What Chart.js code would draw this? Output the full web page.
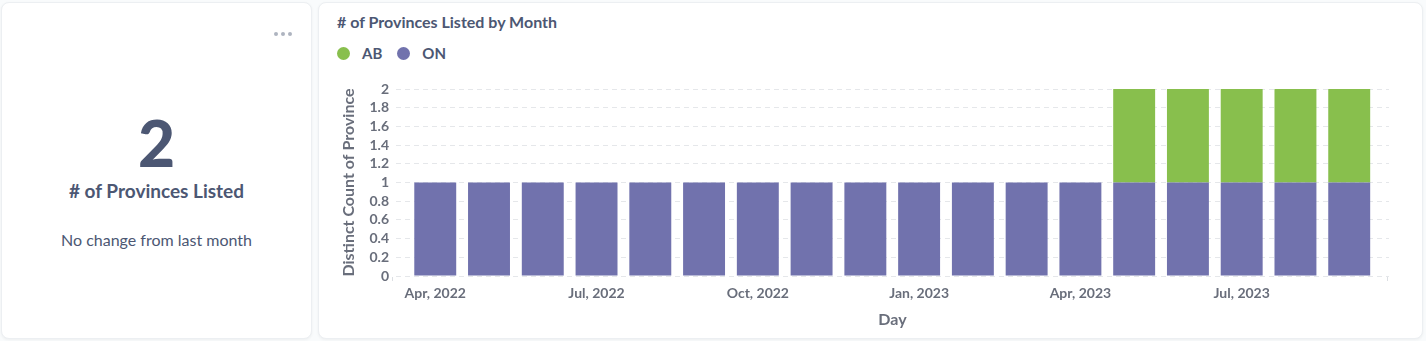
<!DOCTYPE html>
<html>
<head>
<meta charset="utf-8">
<script src="https://cdn.jsdelivr.net/npm/chart.js@4"></script>
<style>
  html, body { margin: 0; padding: 0; }
  body {
    width: 1426px; height: 341px; overflow: hidden;
    background: #f9fbfc; font-family: Lato, "Noto Sans", sans-serif;
    position: relative;
  }
  .card {
    position: absolute; background: #fff; border: 1px solid #eceff2;
    border-radius: 8px; box-sizing: border-box;
    box-shadow: 0 1px 3px rgba(0,0,0,0.05);
  }
  #scalar { left: 1px; top: 2px; width: 311px; height: 337px; }
  #chartCard { left: 318px; top: 2px; width: 1105px; height: 337px; }
  .dots { position: absolute; left: 272px; top: 17px; }
  .dots span { display: inline-block; width: 4px; height: 4px; border-radius: 50%; background: #aeb4c0; margin-right: 3px; }
  .big {
    position: absolute; left: 0; width: 100%; top: 100px; text-align: center;
    font-size: 64px; font-weight: 900; color: #4c5773; line-height: 80px;
  }
  .metricTitle {
    position: absolute; left: 0; width: 100%; top: 176px; text-align: center;
    font-size: 19px; font-weight: 700; color: #4c5773; line-height: 24px;
  }
  .change {
    position: absolute; left: 0; width: 100%; top: 227px; text-align: center;
    font-size: 16px; color: #4c5773; line-height: 20px;
  }
  .ctitle {
    position: absolute; left: 18px; top: 9px;
    font-size: 16px; font-weight: 700; color: #4c5773; line-height: 20px;
  }
  .legend { position: absolute; left: 18px; top: 40px; display: flex; }
  .legend .item { display: flex; align-items: center; margin-right: 15px;
    font-size: 15px; font-weight: 700; color: #4c5773; line-height: 20px; }
  .legend .sw { width: 13px; height: 13px; border-radius: 50%; margin-right: 12px; }
  #wrap { position: absolute; left: 0; top: 68px; width: 1104px; height: 269px; }
</style>
</head>
<body>
<div class="card" id="scalar">
  <div class="dots"><span></span><span></span><span></span></div>
  <div class="big">2</div>
  <div class="metricTitle"># of Provinces Listed</div>
  <div class="change">No change from last month</div>
</div>
<div class="card" id="chartCard">
  <div class="ctitle"># of Provinces Listed by Month</div>
  <div class="legend" id="legend"></div>
  <div id="wrap"><canvas id="c" width="1104" height="269"></canvas></div>
</div>
<script>
// Months on the x axis, April 2022 through September 2023
const months = [
  "Apr, 2022", "May, 2022", "Jun, 2022", "Jul, 2022", "Aug, 2022", "Sep, 2022",
  "Oct, 2022", "Nov, 2022", "Dec, 2022", "Jan, 2023", "Feb, 2023", "Mar, 2023",
  "Apr, 2023", "May, 2023", "Jun, 2023", "Jul, 2023", "Aug, 2023", "Sep, 2023"
];
// Distinct province counts per month
const onValues = [1, 1, 1, 1, 1, 1, 1, 1, 1, 1, 1, 1, 1, 1, 1, 1, 1, 1];
const abValues = [null, null, null, null, null, null, null, null, null, null, null, null, null, 1, 1, 1, 1, 1];
// Months that get a tick label
const labelledMonths = ["Apr, 2022", "Jul, 2022", "Oct, 2022", "Jan, 2023", "Apr, 2023", "Jul, 2023"];
const yTicks = [0, 0.2, 0.4, 0.6, 0.8, 1, 1.2, 1.4, 1.6, 1.8, 2];

const GREEN = "#88bf4d";
const PURPLE = "#7172ad";
const TICK = "#696e7b";

const toPoints = vals => vals.map((v, i) => ({ x: i, y: v }));

// ON stacks at the bottom, AB on top
const datasets = [
  { label: "ON", data: toPoints(onValues), backgroundColor: PURPLE },
  { label: "AB", data: toPoints(abValues), backgroundColor: GREEN }
];

// Legend lists AB first, then ON
const legend = document.getElementById("legend");
[datasets[1], datasets[0]].forEach(ds => {
  const it = document.createElement("div");
  it.className = "item";
  it.innerHTML = '<div class="sw" style="background:' + ds.backgroundColor + '"></div>' + ds.label;
  legend.appendChild(it);
});

Chart.defaults.font.family = "Lato, 'Noto Sans', sans-serif";

// Short marks at both ends of the time axis
const axisEnds = {
  id: "axisEnds",
  afterDraw(chart) {
    const { ctx, chartArea } = chart;
    ctx.save();
    ctx.strokeStyle = "#dcdfe3";
    ctx.lineWidth = 1;
    [chartArea.left - 3.5, chartArea.right - 1.5].forEach(x => {
      ctx.beginPath();
      ctx.moveTo(x, chartArea.bottom + 1);
      ctx.lineTo(x, chartArea.bottom + 5);
      ctx.stroke();
    });
    ctx.restore();
  }
};

new Chart(document.getElementById("c"), {
  type: "bar",
  data: { datasets },
  plugins: [axisEnds],
  options: {
    responsive: false,
    animation: false,
    layout: { padding: { left: 0, right: 34, top: 18, bottom: 0 } },
    datasets: { bar: { barPercentage: 0.78, categoryPercentage: 1 } },
    plugins: { legend: { display: false }, tooltip: { enabled: false } },
    scales: {
      x: {
        type: "linear",
        stacked: true,
        offset: false,
        min: -0.73,
        max: 17.74,
        afterBuildTicks: s => {
          s.ticks = labelledMonths.map(m => ({ value: months.indexOf(m) }));
        },
        afterFit: s => { s.height = 64; },
        grid: { display: false, drawTicks: false },
        border: { display: false },
        ticks: {
          padding: 9,
          autoSkip: false,
          maxRotation: 0,
          color: TICK,
          font: { size: 14, weight: "bold" },
          callback: v => months[v]
        },
        title: {
          display: true, text: "Day", color: TICK,
          font: { size: 16, weight: "bold" },
          padding: { top: 0, bottom: 11 }
        }
      },
      y: {
        stacked: true,
        min: 0,
        max: 2,
        afterBuildTicks: s => { s.ticks = yTicks.map(v => ({ value: v })); },
        afterFit: s => { s.width = 77; },
        grid: { color: "#e5e7ea", lineWidth: 1, drawTicks: false },
        border: { display: false, dash: [5, 4] },
        ticks: {
          padding: 7,
          autoSkip: false,
          color: TICK,
          font: { size: 14, weight: "bold" },
          callback: v => String(Math.round(v * 10) / 10)
        },
        title: {
          display: true, text: "Distinct Count of Province", color: TICK,
          font: { size: 16, weight: "bold" },
          padding: { top: 20, bottom: 0 }
        }
      }
    }
  }
});
</script>
</body>
</html>
